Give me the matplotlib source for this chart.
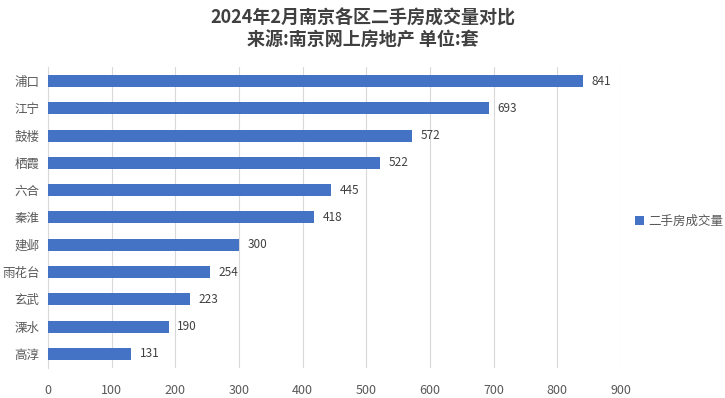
import matplotlib.pyplot as plt

plt.rcParams['font.family'] = ['Noto Sans CJK SC', 'DejaVu Sans']

districts = ['浦口', '江宁', '鼓楼', '栖霞', '六合', '秦淮', '建邺', '雨花台', '玄武', '溧水', '高淳']
volumes = [841, 693, 572, 522, 445, 418, 300, 254, 223, 190, 131]
xticks = [0, 100, 200, 300, 400, 500, 600, 700, 800, 900]
series_name = '二手房成交量'

fig = plt.figure(figsize=(7.25, 3.98), dpi=100)
ax = fig.add_axes([0.0662, 0.0764, 0.7904, 0.7543])

ypos = list(range(len(districts)))[::-1]
bars = ax.barh(ypos, volumes, height=0.44, color='#4472C4', label=series_name, zorder=3)

for y, v in zip(ypos, volumes):
    ax.annotate(str(v), (v, y), xytext=(6, 0), textcoords='offset points',
                va='center', ha='left', fontsize=8.5, color='#404040')

ax.set_xlim(0, 900)
ax.set_ylim(-0.5, len(districts) - 0.5)
ax.set_xticks(xticks)
ax.set_yticks(ypos)
ax.set_yticklabels(districts)
ax.grid(axis='x', color='#d9d9d9', linewidth=0.8, zorder=0)
ax.tick_params(axis='both', length=0, labelsize=9, colors='#595959')
ax.tick_params(axis='x', pad=12)
ax.tick_params(axis='y', pad=6)
for side in ['top', 'right', 'bottom']:
    ax.spines[side].set_visible(False)
ax.spines['left'].set_color('#d9d9d9')

fig.text(0.5, 0.955, '2024年2月南京各区二手房成交量对比', ha='center', va='center',
         fontsize=13, fontweight='bold', color='#404040')
fig.text(0.5, 0.898, '来源:南京网上房地产 单位:套', ha='center', va='center',
         fontsize=13, fontweight='bold', color='#404040')

leg = fig.legend(loc='center left', bbox_to_anchor=(0.861, 0.443), frameon=False,
                 fontsize=9, handlelength=0.7, handleheight=0.7, handletextpad=0.3)
for t in leg.get_texts():
    t.set_color('#595959')

fig.savefig('out.png', dpi=100)
